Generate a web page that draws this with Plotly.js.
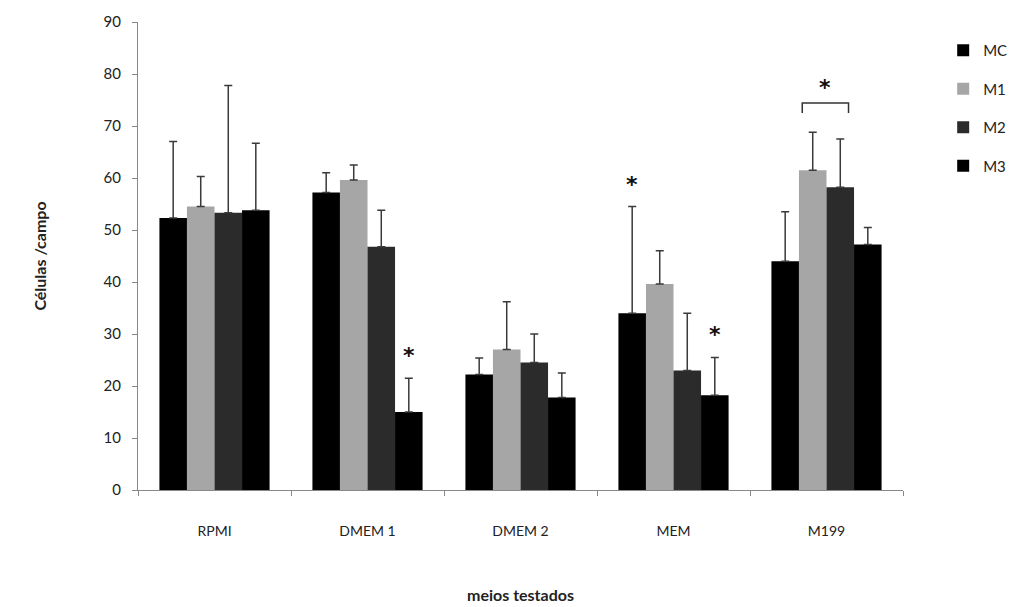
<!DOCTYPE html>
<html><head><meta charset="utf-8">
<script src="https://cdn.plot.ly/plotly-3.0.1.min.js"></script>
<style>body{margin:0;background:#fff}#c{width:1012px;height:607px}</style>
</head><body><div id="c"></div>
<script>
const categories = ["RPMI", "DMEM 1", "DMEM 2", "MEM", "M199"];
const seriesNames = ["MC", "M1", "M2", "M3"];
const MC = [52.3, 57.2, 22.2, 34.0, 44.0];
const M1 = [54.5, 59.6, 27.0, 39.6, 61.5];
const M2 = [53.3, 46.8, 24.5, 23.0, 58.2];
const M3 = [53.8, 15.0, 17.8, 18.2, 47.2];
const MC_err = [14.7, 3.8, 3.2, 20.5, 9.5];
const M1_err = [5.8, 2.9, 9.2, 6.4, 7.3];
const M2_err = [24.5, 7.0, 5.5, 11.0, 9.3];
const M3_err = [12.9, 6.5, 4.7, 7.3, 3.3];
const colors = ["#000000", "#a6a6a6", "#2b2b2b", "#000000"];

const values = [MC, M1, M2, M3];
const errs = [MC_err, M1_err, M2_err, M3_err];
const xs = categories.map((c, i) => i);
const bargap = 0.28;
const barW = (1 - bargap) / 4;
const offs = [0,1,2,3].map(k => (k - 1.5) * barW);

const traces = values.map((v, k) => ({
  type: "bar", name: seriesNames[k], x: xs, y: v,
  legendgroup: "g" + k,
  marker: {color: colors[k], line: {width: 0}},
  error_y: {type: "data", array: errs[k], symmetric: false, arrayminus: v.map(() => 0),
            color: "#3a3a3a", thickness: 1.5, width: 4}
}));

const starFont = {size: 22, color: "#111", family: "'DejaVu Sans', sans-serif", weight: "bold"};
// significance marks: [series index, category index]
const stars = [[3, 1], [0, 3], [3, 3]];
const annotations = stars.map(([k, i]) => ({
  x: i + offs[k], y: values[k][i] + errs[k][i], xref: "x", yref: "y",
  text: "<b>*</b>", showarrow: false, yanchor: "bottom", yshift: 8, font: starFont
}));
// bracket over M1 & M2 in M199
const bi = 4;
const bTop = Math.max(values[1][bi] + errs[1][bi], values[2][bi] + errs[2][bi]) + 5.6;
const bx0 = bi + offs[1] - 0.38 * barW, bx1 = bi + offs[2] + 0.3 * barW;
annotations.push({
  x: (bx0 + bx1) / 2, y: bTop, xref: "x", yref: "y", text: "<b>*</b>", showarrow: false,
  yanchor: "bottom", yshift: 1, font: starFont
});
const shapes = [{
  type: "path", xref: "x", yref: "y",
  path: `M ${bx0} ${bTop - 1.9} L ${bx0} ${bTop} L ${bx1} ${bTop} L ${bx1} ${bTop - 1.9}`,
  line: {color: "#333", width: 1.5}
}];

const layout = {
  width: 1012, height: 607,
  margin: {l: 138, r: 109, t: 22, b: 117},
  paper_bgcolor: "#fff", plot_bgcolor: "#fff",
  barmode: "group", bargap: bargap, bargroupgap: 0,
  font: {family: "Lato, 'Open Sans', sans-serif", color: "#222", size: 14},
  xaxis: {
    range: [-0.5, 4.5], tickvals: xs, ticktext: categories, ticks: "", showgrid: false,
    zeroline: false, showline: true, linecolor: "#888", linewidth: 1,
    tickfont: {size: 14}, ticklabelstandoff: 28,
    minor: {tick0: -0.5, dtick: 1, ticks: "outside", ticklen: 5, tickcolor: "#888", showgrid: false},
    title: {text: "<b>meios testados</b>", font: {size: 16}, standoff: 52}
  },
  yaxis: {
    range: [0, 90], dtick: 10, ticks: "outside", ticklen: 5, tickcolor: "#888",
    showgrid: false, zeroline: false, showline: true, linecolor: "#888", linewidth: 1,
    tickfont: {size: 15}, ticklabelstandoff: 8,
    title: {text: "<b>Células /campo</b>", font: {size: 16}, standoff: 52}
  },
  showlegend: true,
  legend: {xref: "container", yref: "container", x: 0.932, y: 0.944, xanchor: "left", yanchor: "top",
           traceorder: "grouped", tracegroupgap: 16, font: {size: 15}, itemwidth: 30},
  annotations: annotations, shapes: shapes
};
Plotly.newPlot("c", traces, layout, {displayModeBar: false, staticPlot: true});
</script></body></html>
